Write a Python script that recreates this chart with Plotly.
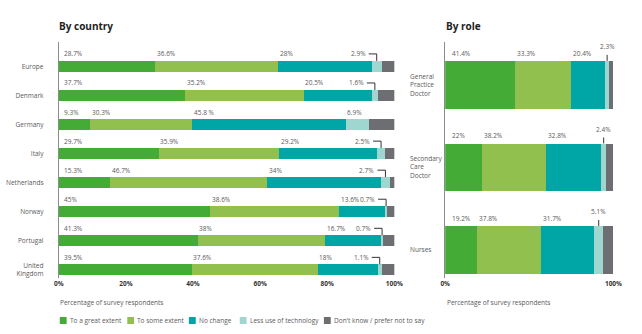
import plotly.graph_objects as go

W, H = 642, 334

# ---- data -------------------------------------------------------------
countries = ["Europe", "Denmark", "Germany", "Italy", "Netherlands",
             "Norway", "Portugal", "United<br>Kingdom"]
c_great = [28.7, 37.7, 9.3, 29.7, 15.3, 45, 41.3, 39.5]
c_some = [36.6, 35.2, 30.3, 35.9, 46.7, 38.6, 38, 37.6]
c_nochange = [28, 20.5, 45.8, 29.2, 34, 13.6, 16.7, 18]
c_less = [2.9, 1.6, 6.9, 2.5, 2.7, 0.7, 0.7, 1.1]
c_dontknow = [3.8, 5.0, 7.7, 2.7, 1.3, 2.1, 3.3, 3.8]

roles = ["General<br>Practice<br>Doctor", "Secondary<br>Care<br>Doctor", "Nurses"]
r_great = [41.4, 22, 19.2]
r_some = [33.3, 38.2, 37.8]
r_nochange = [20.4, 32.8, 31.7]
r_less = [2.3, 2.4, 5.1]
r_dontknow = [2.6, 4.6, 6.2]

series = ["To a great extent", "To some extent", "No change",
          "Less use of technology", "Don't know / prefer not to say"]
pct_ticks = [0, 20, 40, 60, 80, 100]

# ---- styling ----------------------------------------------------------
colors = ["#43ab36", "#92c04f", "#00a5a6", "#9fd6d0", "#6d6e71"]
FONT = "Open Sans"
TXT = "#5a5a5a"
AXIS = "#8c8c8c"
label_overrides = {("Germany", 2): "45.8 %"}


def px(x):
    return x / W


def py(y):
    return 1 - y / H


country_cols = [c_great, c_some, c_nochange, c_less, c_dontknow]
role_cols = [r_great, r_some, r_nochange, r_less, r_dontknow]

fig = go.Figure()
for k, name in enumerate(series):
    fig.add_trace(go.Bar(
        x=country_cols[k], y=countries, orientation="h", name=name,
        marker=dict(color=colors[k], line=dict(width=0)),
        width=0.38, xaxis="x", yaxis="y", showlegend=False,
        hoverinfo="x+y+name"))
    fig.add_trace(go.Bar(
        x=role_cols[k], y=roles, orientation="h", name=name,
        marker=dict(color=colors[k], line=dict(width=0)),
        width=0.58, xaxis="x2", yaxis="y2", showlegend=False,
        hoverinfo="x+y+name"))

annotations = []
shapes = []

lbl_font = dict(family=FONT, size=6.5, color=TXT)
pointer = dict(color="#333333", width=1)

# value labels, country panel
for i, cat in enumerate(countries):
    start = 0.0
    for k in range(4):
        v = country_cols[k][i]
        text = label_overrides.get((cat, k), f"{v:g}%")
        if k == 3 and v < 5:
            # narrow segment: label sits to the left with an elbow pointer
            mid = start + v / 2
            annotations.append(dict(
                x=mid, y=cat, xref="x", yref="y", text=text, showarrow=False,
                xanchor="right", yanchor="middle", xshift=-9, yshift=12.5,
                font=lbl_font))
            shapes.append(dict(type="line", xref="x", yref="y",
                               xsizemode="pixel", ysizemode="pixel",
                               xanchor=mid, yanchor=i,
                               x0=-8, x1=0, y0=12.5, y1=12.5, line=pointer))
            shapes.append(dict(type="line", xref="x", yref="y",
                               xsizemode="pixel", ysizemode="pixel",
                               xanchor=mid, yanchor=i,
                               x0=0, x1=0, y0=12.5, y1=5.5, line=pointer))
        else:
            annotations.append(dict(
                x=start, y=cat, xref="x", yref="y", text=text, showarrow=False,
                xanchor="left", yanchor="middle", xshift=3 if k == 0 else 0,
                yshift=12.5, font=lbl_font))
        start += v

# value labels, role panel
for i, cat in enumerate(roles):
    start = 0.0
    for k in range(4):
        v = role_cols[k][i]
        text = f"{v:g}%"
        if k == 3:
            mid = start + v / 2
            annotations.append(dict(
                x=mid, y=cat, xref="x2", yref="y2", text=text, showarrow=False,
                xanchor="center", yanchor="middle", yshift=38, font=lbl_font))
            shapes.append(dict(type="line", xref="x2", yref="y2",
                               xsizemode="pixel", ysizemode="pixel",
                               xanchor=mid, yanchor=i,
                               x0=0, x1=0, y0=30, y1=24, line=pointer))
        else:
            annotations.append(dict(
                x=start, y=cat, xref="x2", yref="y2", text=text, showarrow=False,
                xanchor="left", yanchor="middle", xshift=5 if k == 0 else 0,
                yshift=31.5, font=lbl_font))
        start += v
    # role names, left-aligned beside the panel
    annotations.append(dict(
        x=px(412), y=cat, xref="paper", yref="y2", text=cat, showarrow=False,
        xanchor="left", yanchor="middle", align="left", font=lbl_font))

# panel titles
title_font = dict(family=FONT, size=10, color="#1e1e1e", weight="bold")
annotations.append(dict(x=px(53), y=py(26), xref="paper", yref="paper",
                        text="By country", showarrow=False, xanchor="left",
                        yanchor="middle", font=title_font))
annotations.append(dict(x=px(449), y=py(26), xref="paper", yref="paper",
                        text="By role", showarrow=False, xanchor="left",
                        yanchor="middle", font=title_font))

# axis captions
for x0 in (54, 450):
    annotations.append(dict(x=px(x0), y=py(302.5), xref="paper", yref="paper",
                            text="Percentage of survey respondents",
                            showarrow=False, xanchor="left", yanchor="middle",
                            font=lbl_font))

# legend row
legend_x = [56, 125, 188, 240, 326]
for k, name in enumerate(series):
    x0 = legend_x[k]
    shapes.append(dict(type="rect", xref="paper", yref="paper",
                       x0=px(x0), x1=px(x0 + 7), y0=py(324), y1=py(317),
                       fillcolor=colors[k], line=dict(width=0)))
    annotations.append(dict(x=px(x0 + 8), y=py(320.8), xref="paper",
                            yref="paper", text=name, showarrow=False,
                            xanchor="left", yanchor="middle", font=lbl_font))

tick_font = dict(family=FONT, size=6.5, color="#333333", weight="bold")

fig.update_layout(
    width=W, height=H,
    margin=dict(l=0, r=0, t=0, b=0),
    paper_bgcolor="white", plot_bgcolor="white",
    barmode="stack", bargap=0,
    font=dict(family=FONT, size=6.5, color=TXT),
    xaxis=dict(domain=[px(55), px(398)], range=[0, 100], anchor="y",
               tickvals=pct_ticks, ticktext=[f"{t}%" for t in pct_ticks],
               tickfont=tick_font, showgrid=False, zeroline=False,
               showline=False, ticks="", fixedrange=True),
    yaxis=dict(domain=[py(278), py(42)], type="category",
               categoryorder="array", categoryarray=countries,
               range=[7.28, -0.84], anchor="x", showgrid=False,
               zeroline=False, showline=True, linecolor=AXIS, linewidth=1,
               ticks="", ticklabelstandoff=13,
               tickfont=dict(family=FONT, size=6.5, color=TXT),
               fixedrange=True),
    xaxis2=dict(domain=[px(450), px(622)], range=[0, 100], anchor="y2",
                tickvals=[0, 100], ticktext=["0%", "100%"],
                tickfont=tick_font, showgrid=False, zeroline=False,
                showline=False, ticks="", fixedrange=True),
    yaxis2=dict(domain=[py(278), py(42)], type="category",
                categoryorder="array", categoryarray=roles,
                range=[2.34, -0.52], anchor="x2", showgrid=False,
                zeroline=False, showline=True, linecolor=AXIS, linewidth=1,
                ticks="", showticklabels=False, fixedrange=True),
    annotations=annotations,
    shapes=shapes,
)

fig.write_html("out.html")
